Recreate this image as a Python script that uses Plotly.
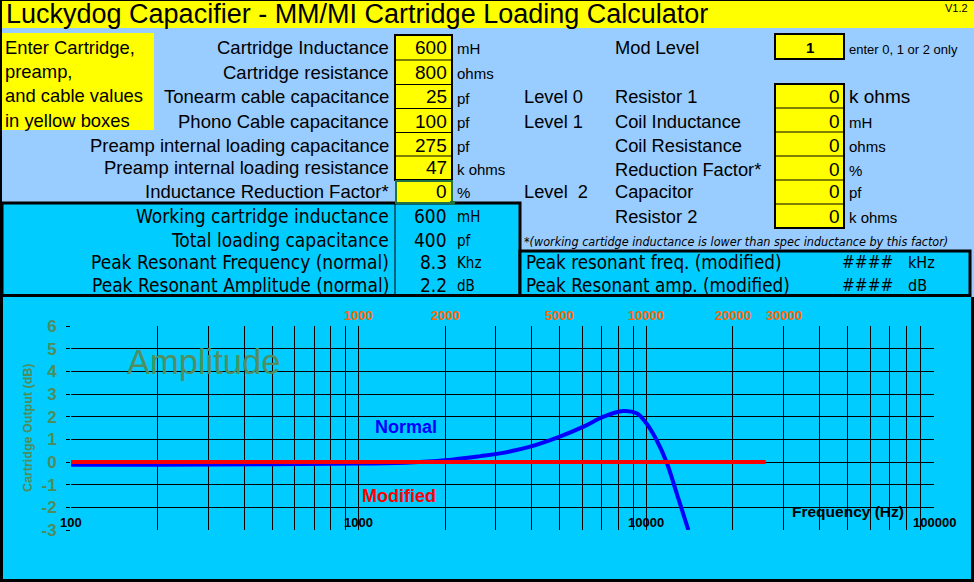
import numpy as np
import plotly.graph_objects as go

# ---- data ----
freq_normal = [100, 200, 500, 1000, 1500, 2000, 2650, 3100, 3950, 5000, 6050,
               7100, 8300, 9250, 10000, 10850, 11750, 12750, 14000]
db_normal = [-0.12, -0.12, -0.1, -0.07, -0.02, 0.08, 0.26, 0.38, 0.68, 1.12, 1.56,
             2.0, 2.25, 2.15, 1.71, 0.97, 0.0, -1.38, -3.0]
freq_modified = [100, 1000, 10000, 26000]
db_modified = [0, 0, 0, 0]

input_labels = ["Cartridge Inductance", "Cartridge resistance", "Tonearm cable capacitance",
                "Phono Cable capacitance", "Preamp internal loading capacitance",
                "Preamp internal loading resistance", "Inductance Reduction Factor*"]
input_values = ["600", "800", "25", "100", "275", "47", "0"]
input_units = ["mH", "ohms", "pf", "pf", "pf", "k ohms", "%"]

result_labels = ["Working cartridge inductance", "Total loading capacitance",
                 "Peak Resonant Frequency (normal)", "Peak Resonant Amplitude (normal)"]
result_values = ["600", "400", "8.3", "2.2"]
result_units = ["mH", "pf", "Khz", "dB"]

mod_levels = ["Level 0", "Level 1", "", "", "Level  2", ""]
mod_labels = ["Resistor 1", "Coil Inductance", "Coil Resistance", "Reduction Factor*",
              "Capacitor", "Resistor 2"]
mod_values = ["0", "0", "0", "0", "0", "0"]
mod_units = ["k ohms", "mH", "ohms", "%", "pf", "k ohms"]

mod_result_labels = ["Peak resonant freq. (modified)", "Peak Resonant amp. (modified)"]
mod_result_units = ["kHz", "dB"]

intro_lines = ["Enter Cartridge,", "preamp,", "and cable values", "in yellow boxes"]

y_ticks = [-3, -2, -1, 0, 1, 2, 3, 4, 5, 6]
top_labels = [1000, 2000, 5000, 10000, 20000, 30000]
bottom_labels = [100, 1000, 10000, 100000]
grid_freqs = [m * 10 ** d for d in range(2, 5) for m in range(1, 10)] + [100000]

W, H = 974, 582
ARIAL = "Liberation Sans, Arial, sans-serif"
NARROW = "Liberation Sans Narrow, Arial Narrow, DejaVu Sans Condensed, sans-serif"
YELLOW = "#FFFF00"
LIGHT = "#99CCFF"
CYAN = "#00CCFF"
GREEN = "#4F8C5C"
ORANGE = "#FF6600"


def px(x):
    return x / W


def py(y):
    return 1 - y / H


shapes = []
annots = []


def rect(x0, y0, x1, y1, fill, line="rgba(0,0,0,0)", lw=0):
    shapes.append(dict(type="rect", xref="paper", yref="paper", layer="below",
                       x0=px(x0), x1=px(x1), y0=py(y1), y1=py(y0),
                       fillcolor=fill, line=dict(color=line, width=lw)))


def hline(x0, x1, y, lw=1, color="black"):
    shapes.append(dict(type="line", xref="paper", yref="paper", layer="below",
                       x0=px(x0), x1=px(x1), y0=py(y), y1=py(y),
                       line=dict(color=color, width=lw)))


def vline(x, y0, y1, lw=1, color="black"):
    shapes.append(dict(type="line", xref="paper", yref="paper", layer="below",
                       x0=px(x), x1=px(x), y0=py(y0), y1=py(y1),
                       line=dict(color=color, width=lw)))


def text(x, y, s, size=17, anchor="left", color="black", family=ARIAL, **kw):
    annots.append(dict(x=px(x), y=py(y), xref="paper", yref="paper", text=s,
                       showarrow=False, xanchor=anchor, yanchor="middle",
                       font=dict(size=size, color=color, family=family), **kw))


# backgrounds
rect(2, 1, 974, 28, YELLOW)
rect(2, 28, 974, 297, LIGHT)
rect(2, 33, 154, 130, YELLOW)
rect(3, 297, 971, 579, CYAN)
rect(2, 203, 520, 295.5, CYAN, "black", 3)
rect(520, 251, 970, 295.5, CYAN, "black", 3)
vline(395, 203, 294)

# title
text(4, 14, "Luckydog Capacifier - MM/MI Cartridge Loading Calculator", size=27)
text(970, 8, "V1.2", size=11, anchor="right")

# intro text
for i, s in enumerate(intro_lines):
    text(3, 47 + i * 24.5, s, size=18.4)

# input block
row_y = [47, 72, 97, 121, 145, 168, 192]
rect(395, 35, 452, 180, YELLOW, "black", 2)
for yb in [60, 84.5, 108.5, 132.5, 156]:
    hline(395, 452, yb)
rect(396, 181, 452, 203, YELLOW, "#217346", 2)
rect(450, 201, 455, 205, "#217346")
for y, lab, val, unit in zip(row_y, input_labels, input_values, input_units):
    text(391, y, lab, size=18.5, anchor="right")
    text(449, y, val, size=19, anchor="right")
    text(455, y + 1, unit, size=15)

# results block
res_y = [216, 240, 262, 285]
for y, lab, val, unit in zip(res_y, result_labels, result_values, result_units):
    text(391, y, lab, size=19, anchor="right", family=NARROW)
    text(449, y, val, size=19, anchor="right", family=NARROW)
    text(455, y + 1, unit, size=15, family=NARROW)

# modification block
text(613, 47, "Mod Level", size=18.3)
rect(775, 34, 844, 59, YELLOW, "black", 2)
text(810, 47, "<b>1</b>", size=15, anchor="center")
text(847, 49, "enter 0, 1 or 2 only", size=13)
mod_y = [97, 121, 145, 169, 192, 216]
rect(775, 84, 844, 228, YELLOW, "black", 2)
for yb in [108, 132, 156, 180, 204]:
    hline(775, 844, yb)
for i, (y, lev, lab, val, unit) in enumerate(zip(mod_y, mod_levels, mod_labels,
                                                  mod_values, mod_units)):
    if lev:
        text(522, y, lev, size=18.3)
    text(613, y, lab, size=18.3)
    text(842, y, val, size=19, anchor="right")
    text(847, y + (0 if i == 0 else 1), unit, size=19 if i == 0 else 15)
text(522, 241, "<i>*(working cartidge inductance is lower than spec inductance by this factor)</i>",
     size=12.5, family=NARROW)
for y, lab, unit in zip([262, 285], mod_result_labels, mod_result_units):
    text(524, y, lab, size=18.7, family=NARROW)
    text(895, y, "####", size=17, anchor="right", family=NARROW)
    text(906, y, unit, size=16, family=NARROW)

# chart texts
text(203, 362, "Amplitude", size=34.5, anchor="center", color="#4F8F62")
text(406, 427, "<b>Normal</b>", size=18, anchor="center", color="#0000FF")
text(399, 496, "<b>Modified</b>", size=18, anchor="center", color="#FF0000")
text(848, 511, "<b>Frequency (Hz)</b>", size=15.5, anchor="center")
text(28, 428, "<b>Cartridge Output (dB)</b>", size=12.5, anchor="center", color=GREEN,
     textangle=-90)
for f in top_labels:
    annots.append(dict(x=np.log10(f), y=py(315), xref="x", yref="paper",
                       text="<b>%d</b>" % f, showarrow=False, xanchor="center",
                       yanchor="middle", font=dict(size=13, color=ORANGE, family=ARIAL)))
for f in bottom_labels:
    annots.append(dict(x=np.log10(f), y=py(522), xref="x", yref="paper",
                       text="<b>%d</b>" % f, showarrow=False, xanchor="center",
                       yanchor="middle", font=dict(size=13, color="black", family=ARIAL)))

fig = go.Figure()
fig.add_trace(go.Scatter(x=freq_normal, y=db_normal, mode="lines", name="Normal",
                         line=dict(color="#0000FF", width=4, shape="spline")))
fig.add_trace(go.Scatter(x=freq_modified, y=db_modified, mode="lines", name="Modified",
                         line=dict(color="#FF0000", width=4)))

fig.update_xaxes(type="log", range=[2, 5], domain=[px(71), px(934)], automargin=False,
                 tickvals=grid_freqs, showticklabels=False, showgrid=True,
                 gridcolor="black", gridwidth=1, zeroline=False, fixedrange=True)
fig.update_yaxes(range=[-3, 6], domain=[py(530), py(326)], automargin=False,
                 tickvals=y_ticks, ticktext=[str(v) for v in y_ticks],
                 showgrid=True, gridcolor="black", gridwidth=1, zeroline=False,
                 ticks="outside", ticklen=4, tickcolor="black", ticklabelstandoff=6,
                 tickfont=dict(size=17, color=GREEN, family=ARIAL, weight="bold"),
                 fixedrange=True)

fig.update_layout(width=W, height=H, margin=dict(l=0, r=0, t=0, b=0, pad=0),
                  paper_bgcolor="black", plot_bgcolor="rgba(0,0,0,0)",
                  showlegend=False, shapes=shapes, annotations=annots)

fig.write_html("out.html", config={"displayModeBar": False},
               post_script="document.body.style.margin='0';")
